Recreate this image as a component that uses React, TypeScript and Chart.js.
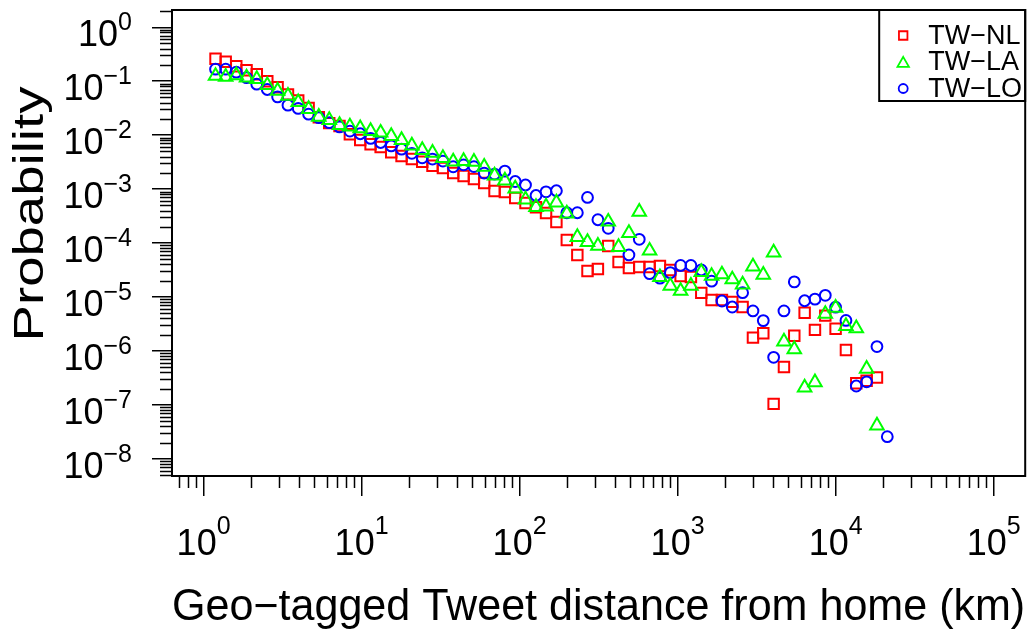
import React, { useEffect, useRef } from 'react';
import { Chart, registerables } from 'chart.js';

Chart.register(...registerables);

// Bin centres (km) of the geo-tagged tweet distance histogram
const distanceKm = [
  1.19, 1.38, 1.61, 1.87, 2.17, 2.53, 2.94, 3.42, 3.97, 4.62,
  5.36, 6.24, 7.25, 8.43, 9.8, 11.4, 13.2, 15.4, 17.9, 20.8,
  24.2, 28.1, 32.7, 38.0, 44.2, 51.4, 59.7, 69.4, 80.7, 93.8,
  109, 127, 147, 171, 199, 232, 269, 313, 364, 423,
  492, 572, 665, 773, 899, 1045, 1214, 1412, 1641, 1908,
  2218, 2579, 2999, 3486, 4053, 4711, 5477, 6368, 7402, 8606,
  10000, 11627, 13518, 15715, 18270, 21240,
];

const probNL = [
  0.26, 0.23, 0.19, 0.16, 0.135, 0.1, 0.077, 0.057, 0.044, 0.032,
  0.0215, 0.0167, 0.0147, 0.0104, 0.0081, 0.0068, 0.006, 0.0048, 0.0041, 0.0036,
  0.0032, 0.0027, 0.00245, 0.00198, 0.00174, 0.00153, 0.00129, 0.00092, 0.00088, 0.00068,
  5.5e-4, 4.6e-4, 3.6e-4, 2.45e-4, 1.14e-4, 6.0e-5, 3.03e-5, 3.3e-5, 8.8e-5, 4.45e-5,
  3.44e-5, 3.59e-5, 3.59e-5, 3.75e-5, 3.16e-5, 2.45e-5, 2.35e-5, 1.19e-5, 8.8e-6, 8.8e-6,
  8.1e-6, 6.5e-6, 1.76e-6, 2.13e-6, 1.04e-7, 5.0e-7, 1.9e-6, 5.1e-6, 2.45e-6, 4.5e-6,
  2.56e-6, 1.04e-6, 2.5e-7, 2.8e-7, 3.2e-7, null,
];

const probLA = [
  0.125, 0.12, 0.129, 0.117, 0.109, 0.0843, 0.0661, 0.0534, 0.0408, 0.0303,
  0.0218, 0.019, 0.0153, 0.0144, 0.0134, 0.0119, 0.0111, 0.0096, 0.0081, 0.0064,
  0.0053, 0.0047, 0.00375, 0.00323, 0.0033, 0.0032, 0.00259, 0.00178, 0.00144, 0.00102,
  6.4e-4, 4.64e-4, 4.74e-4, 5.62e-4, 3.52e-4, 1.29e-4, 1.04e-4, 8.9e-5, 2.48e-4, 8.4e-5,
  1.53e-4, 3.8e-4, 7.2e-5, 2.32e-5, 1.6e-5, 1.29e-5, 1.6e-5, 2.9e-5, 2.45e-5, 2.61e-5,
  2.11e-5, 1.7e-5, 3.64e-5, 2.56e-5, 6.67e-5, 1.49e-6, 1.07e-6, 2.09e-7, 2.61e-7, 4.84e-6,
  6.26e-6, 2.87e-6, 2.61e-6, 4.64e-7, 4.12e-8, null,
];

const probLO = [
  0.167, 0.167, 0.147, 0.116, 0.088, 0.0702, 0.0512, 0.0359, 0.0312, 0.0245,
  0.0211, 0.017, 0.0142, 0.0119, 0.0106, 0.0087, 0.0073, 0.0063, 0.0055, 0.0046,
  0.0038, 0.0036, 0.0033, 0.00259, 0.00282, 0.00261, 0.00198, 0.0019, 0.00215, 0.00138,
  0.00119, 7.6e-4, 8.9e-4, 9.3e-4, 3.64e-4, 3.64e-4, 7.0e-4, 2.7e-4, 1.87e-4, null,
  6.0e-5, 1.17e-4, 2.7e-5, 2.23e-5, 2.82e-5, 3.83e-5, 3.83e-5, 3.16e-5, 1.96e-5, 8.4e-6,
  6.5e-6, 1.2e-5, 5.5e-6, 3.64e-6, 7.6e-7, 5.5e-6, 1.9e-5, 8.5e-6, 9.1e-6, 1.07e-5,
  6.45e-6, 3.67e-6, 2.23e-7, 2.67e-7, 1.2e-6, 2.56e-8,
];

const seriesLabels = ['TW\u2212NL', 'TW\u2212LA', 'TW\u2212LO'];
const xMajorTicks = [1, 10, 100, 1000, 10000, 100000];
const yMajorTicks = [1e-8, 1e-7, 1e-6, 1e-5, 1e-4, 1e-3, 1e-2, 1e-1, 1];
const xTitle = 'Geo\u2212tagged Tweet distance from home (km)';
const yTitle = 'Probability';

const FONT = '"Liberation Sans", Arial, Helvetica, sans-serif';

function expText(v: number): string {
  return String(Math.round(Math.log10(v))).replace('-', '\u2212');
}

const COLORS = ['#FF0000', '#00FF00', '#0000FF'];
const STYLES = ['rect', 'triangle', 'circle'];
const RADII = [7.4, 7.8, 5.4];

function toPoints(ys: (number | null)[]) {
  return distanceKm
    .map((x, i) => ({ x, y: ys[i] }))
    .filter((p) => p.y !== null && p.y !== undefined) as { x: number; y: number }[];
}

function drawMarker(ctx: CanvasRenderingContext2D, style: string, x: number, y: number, r: number) {
  ctx.beginPath();
  if (style === 'rect') {
    const s = r * Math.SQRT1_2;
    ctx.rect(x - s, y - s, 2 * s, 2 * s);
  } else if (style === 'triangle') {
    ctx.moveTo(x, y - r);
    ctx.lineTo(x + r * Math.sin((2 * Math.PI) / 3), y - r * Math.cos((2 * Math.PI) / 3));
    ctx.lineTo(x + r * Math.sin((4 * Math.PI) / 3), y - r * Math.cos((4 * Math.PI) / 3));
    ctx.closePath();
  } else {
    ctx.arc(x, y, r, 0, Math.PI * 2);
  }
  ctx.stroke();
}

const framePlugin = {
  id: 'frameAndExtras',
  afterDraw(chart: any) {
    const { ctx, chartArea: ca, scales } = chart;
    const xs = scales.x;
    const ys = scales.y;
    ctx.save();
    // plot box
    ctx.strokeStyle = '#000';
    ctx.lineWidth = 2;
    ctx.strokeRect(ca.left, ca.top, ca.right - ca.left, ca.bottom - ca.top);

    // minor ticks
    ctx.lineWidth = 1.5;
    ctx.beginPath();
    for (let k = -1; k <= 5; k++) {
      for (let m = 2; m <= 9; m++) {
        const v = m * Math.pow(10, k);
        if (v < xs.min || v > xs.max) continue;
        const px = Math.round(xs.getPixelForValue(v)) + 0.5;
        ctx.moveTo(px, ca.bottom);
        ctx.lineTo(px, ca.bottom + 12);
      }
    }
    for (let k = -9; k <= 0; k++) {
      for (let m = 2; m <= 9; m++) {
        const v = m * Math.pow(10, k);
        if (v < ys.min || v > ys.max) continue;
        const py = Math.round(ys.getPixelForValue(v)) + 0.5;
        ctx.moveTo(ca.left - 12, py);
        ctx.lineTo(ca.left, py);
      }
    }
    ctx.stroke();

    // tick labels: 10 with superscript exponent
    ctx.fillStyle = '#000';
    ctx.textBaseline = 'alphabetic';
    ctx.textAlign = 'left';
    for (const t of ys.ticks) {
      const py = ys.getPixelForValue(t.value);
      const e = expText(t.value);
      ctx.font = `25px ${FONT}`;
      const ew = ctx.measureText(e).width;
      const right = ca.left - 40;
      ctx.fillText(e, right - ew, py + 3);
      ctx.font = `36px ${FONT}`;
      const bw = ctx.measureText('10').width;
      ctx.fillText('10', right - ew - bw, py + 19);
    }
    for (const t of xs.ticks) {
      const px = xs.getPixelForValue(t.value);
      const e = expText(t.value);
      ctx.font = `25px ${FONT}`;
      const ew = ctx.measureText(e).width;
      ctx.font = `36px ${FONT}`;
      const bw = ctx.measureText('10').width;
      const left = px - (bw + ew) / 2;
      ctx.fillText('10', left, ca.bottom + 79);
      ctx.font = `25px ${FONT}`;
      ctx.fillText(e, left + bw, ca.bottom + 58);
    }

    // legend
    const lx = ca.right - 146;
    const lTop = ca.top;
    const lBottom = ca.top + 91;
    ctx.lineWidth = 2;
    ctx.strokeStyle = '#000';
    ctx.strokeRect(lx, lTop, ca.right - lx, lBottom - lTop);
    ctx.font = `27px ${FONT}`;
    ctx.textAlign = 'left';
    ctx.textBaseline = 'middle';
    const legendR = [6, 6.6, 4.5];
    seriesLabels.forEach((lab, i) => {
      const cy = lTop + 25.5 + i * 26.5;
      ctx.strokeStyle = COLORS[i];
      ctx.lineWidth = 1.8;
      drawMarker(ctx, STYLES[i], lx + 24, cy + (i === 1 ? 1.5 : 0), legendR[i]);
      ctx.fillStyle = '#000';
      ctx.fillText(lab, lx + 49, cy + 1);
    });

    // y axis title
    ctx.translate(31, 214);
    ctx.rotate(-Math.PI / 2);
    ctx.scale(1.3, 1);
    ctx.font = `42px ${FONT}`;
    ctx.textAlign = 'center';
    ctx.textBaseline = 'middle';
    ctx.fillStyle = '#000';
    ctx.fillText(yTitle, 0, 0);
    ctx.restore();
  },
};

function zeroPad(scale: any) {
  scale.paddingLeft = 0;
  scale.paddingRight = 0;
  scale.paddingTop = 0;
  scale.paddingBottom = 0;
}

export default function App() {
  const canvasRef = useRef<HTMLCanvasElement | null>(null);

  useEffect(() => {
    if (!canvasRef.current) return;
    const seriesData = [probNL, probLA, probLO];
    const chart = new Chart(canvasRef.current, {
      type: 'scatter',
      data: {
        datasets: seriesData.map((ys, i) => ({
          label: seriesLabels[i],
          data: toPoints(ys),
          pointStyle: STYLES[i] as any,
          pointRadius: RADII[i],
          pointHoverRadius: RADII[i],
          borderColor: COLORS[i],
          backgroundColor: 'rgba(0,0,0,0)',
          pointBorderWidth: 2,
          borderWidth: 2,
          showLine: false,
          order: [3, 1, 2][i],
        })),
      },
      options: {
        animation: false,
        responsive: false,
        devicePixelRatio: 1,
        events: [],
        layout: { padding: { top: 10, right: 5, left: 0, bottom: 0 } },
        plugins: {
          legend: { display: false },
          tooltip: { enabled: false },
        },
        scales: {
          x: {
            type: 'logarithmic',
            bounds: 'data',
            min: 0.631,
            max: 158489,
            afterBuildTicks: (scale: any) => {
              scale.ticks = xMajorTicks.map((v) => ({ value: v }));
            },
            afterFit: (scale: any) => {
              scale.height = 161;
              zeroPad(scale);
            },
            ticks: { display: false, autoSkip: false },
            grid: {
              display: true,
              drawOnChartArea: false,
              drawTicks: true,
              tickLength: 20,
              color: '#000',
              lineWidth: 1.5,
            },
            border: { display: false },
            title: {
              display: true,
              text: xTitle,
              font: { family: FONT, size: 43.5 },
              color: '#000',
              padding: { top: 0, bottom: 3 },
            },
          },
          y: {
            type: 'logarithmic',
            bounds: 'data',
            min: 4.786e-9,
            max: 2.089,
            afterBuildTicks: (scale: any) => {
              scale.ticks = yMajorTicks.map((v) => ({ value: v }));
            },
            afterFit: (scale: any) => {
              scale.width = 172;
              zeroPad(scale);
            },
            ticks: { display: false, autoSkip: false },
            grid: {
              display: true,
              drawOnChartArea: false,
              drawTicks: true,
              tickLength: 20,
              color: '#000',
              lineWidth: 1.5,
            },
            border: { display: false },
            title: { display: false, text: yTitle },
          },
        },
      },
      plugins: [framePlugin],
    });
    return () => chart.destroy();
  }, []);

  return (
    <div style={{ position: 'absolute', left: 0, top: 0, width: 1035, height: 637, background: '#fff' }}>
      <canvas ref={canvasRef} width={1035} height={637} style={{ display: 'block' }} />
    </div>
  );
}
